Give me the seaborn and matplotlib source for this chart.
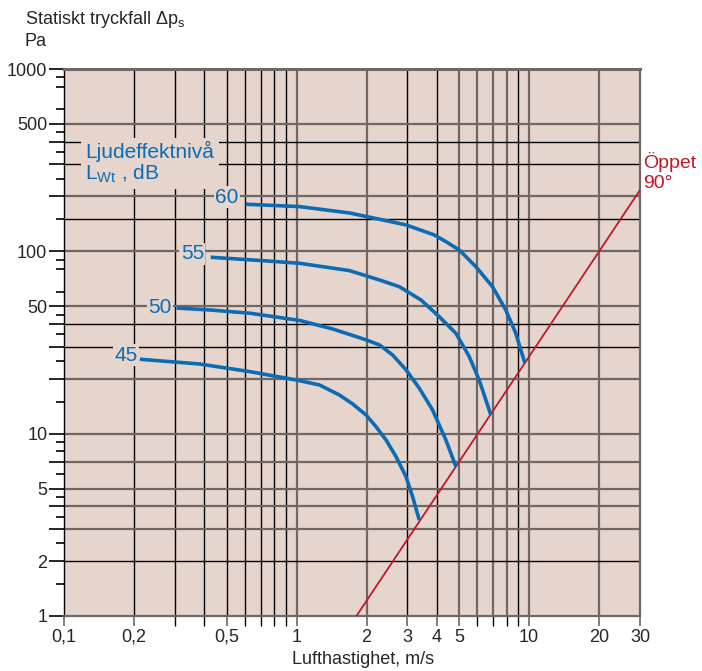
import matplotlib
matplotlib.use("Agg")
import matplotlib.pyplot as plt
import matplotlib.ticker as mticker
import seaborn as sns
import pandas as pd

# ---- data ----
v45 = [0.212, 0.3835, 0.6285, 0.997, 1.255, 1.529, 1.744, 1.991, 2.198, 2.427, 2.679, 2.957, 3.156, 3.373]
p45 = [25.6, 24.1, 21.9, 19.7, 18.5, 16.3, 14.55, 12.66, 10.92, 9.23, 7.48, 5.81, 4.51, 3.36]
v50 = [0.3047, 0.4232, 0.6285, 1.030, 1.432, 1.991, 2.271, 2.590, 2.957, 3.373, 3.846, 4.390, 4.848]
p50 = [48.9, 47.7, 45.8, 41.8, 37.5, 32.7, 30.7, 27.0, 22.4, 17.75, 13.49, 9.23, 6.59]
v55 = [0.4275, 0.7413, 1.030, 1.688, 2.271, 2.767, 3.430, 4.110, 4.848, 5.527, 6.102, 6.52, 6.85]
p55 = [92.8, 88.6, 86.0, 78.4, 69.7, 64.0, 54.1, 43.8, 35.5, 26.5, 19.7, 15.3, 12.66]
v60 = [0.604, 1.030, 1.688, 2.271, 2.957, 3.912, 4.390, 5.008, 5.904, 6.96, 7.943, 8.767, 9.583]
p60 = [181.3, 175.9, 162.4, 150.0, 139.6, 123.0, 113.0, 101.8, 82.4, 64.0, 47.7, 35.5, 24.5]
levels = ["45", "50", "55", "60"]
open_v = [1.81, 30]
open_p = [1.0, 217]

x_ticks = [0.1, 0.2, 0.5, 1, 2, 3, 4, 5, 10, 20, 30]
x_tick_labels = ["0,1", "0,2", "0,5", "1", "2", "3", "4", "5", "10", "20", "30"]
y_ticks = [1, 2, 5, 10, 50, 100, 500, 1000]
y_tick_labels = ["1", "2", "5", "10", "50", "100", "500", "1000"]

# ---- styling ----
BG = "#e5d5cd"
BLUE = "#0b6cb5"
RED = "#c0182a"
GRAY = "#6f6763"

sns.set_style("ticks")
plt.rcParams["font.family"] = ["Liberation Sans", "DejaVu Sans"]
plt.rcParams["mathtext.fontset"] = "custom"
plt.rcParams["mathtext.rm"] = "Liberation Sans"
plt.rcParams["mathtext.it"] = "Liberation Sans"
plt.rcParams["mathtext.default"] = "regular"

fig = plt.figure(figsize=(7.02, 6.71), dpi=100)
ax = fig.add_axes([64 / 702, 1 - 616 / 671, (640 - 64) / 702, (616 - 69) / 671])
ax.set_facecolor(BG)
ax.set_xscale("log")
ax.set_yscale("log")
ax.set_xlim(0.1, 30)
ax.set_ylim(1, 1000)

# grid lines
vgray = [1, 2, 5, 6, 7, 8, 10, 20]
vblack = [0.2, 0.3, 0.4, 0.5, 0.6, 0.7, 0.8, 0.9, 3, 4, 9]
hgray = [3, 4, 5, 7, 10, 20, 50, 100, 200, 500]
hblack = [2, 30, 40, 150, 300, 400]
for xv in vblack:
    ax.axvline(xv, color="black", lw=1.0, zorder=1)
for xv in vgray:
    ax.axvline(xv, color=GRAY, lw=1.6, zorder=1)
for yv in hblack:
    ax.axhline(yv, color="black", lw=1.0, zorder=1)
for yv in hgray:
    ax.axhline(yv, color=GRAY, lw=1.6, zorder=1)

# curves
df = pd.concat([
    pd.DataFrame({"v": v, "p": p, "L": lab})
    for v, p, lab in zip([v45, v50, v55, v60], [p45, p50, p55, p60], levels)
])
sns.lineplot(data=df, x="v", y="p", hue="L", palette=[BLUE] * 4, estimator=None,
             sort=False, lw=2.6, legend=False, ax=ax, zorder=4,
             solid_capstyle="butt", solid_joinstyle="round")
sns.lineplot(x=open_v, y=open_p, color=RED, lw=1.3, ax=ax, zorder=3)

# curve labels
lab_pos = {"60": (0.565, 198), "55": (0.40, 97), "50": (0.29, 49.5), "45": (0.207, 27)}
bbox = dict(facecolor=BG, edgecolor="none", pad=1.0)
for lab, (xx, yy) in lab_pos.items():
    ax.text(xx, yy, lab, color=BLUE, fontsize=15, ha="right", va="center", bbox=bbox, zorder=5)

ax.text(0.1237, 305, "Ljudeffektnivå\nL$_{Wt}$ , dB", color=BLUE, fontsize=15,
        ha="left", va="center", linespacing=1.05,
        bbox=dict(facecolor=BG, edgecolor="none", pad=3), zorder=5)

ax.text(31.0, 272, "Öppet\n90°", color=RED, fontsize=14, ha="left", va="center",
        linespacing=1.2, clip_on=False)

# ticks
ax.xaxis.set_major_locator(mticker.FixedLocator(x_ticks))
ax.xaxis.set_major_formatter(mticker.FixedFormatter(x_tick_labels))
ax.xaxis.set_minor_locator(mticker.FixedLocator([0.3, 0.4, 0.6, 0.7, 0.8, 0.9, 6, 7, 8, 9]))
ax.xaxis.set_minor_formatter(mticker.NullFormatter())
ax.tick_params(axis="x", which="major", length=7, width=1.2, color=GRAY, pad=2, labelsize=13)
ax.tick_params(axis="x", which="minor", length=7, width=1.0, color="black")

ax.yaxis.set_major_locator(mticker.FixedLocator(y_ticks + [3, 4, 7, 20, 30, 40, 200, 300, 400]))
ax.yaxis.set_major_formatter(mticker.FixedFormatter(y_tick_labels + [""] * 9))
ax.yaxis.set_minor_locator(mticker.FixedLocator(
    [1.5, 2.5, 3.5, 4.5, 6, 8, 9, 15, 25, 35, 45, 60, 80, 90, 150, 250, 350, 450, 600, 800, 900]))
ax.yaxis.set_minor_formatter(mticker.NullFormatter())
ax.tick_params(axis="y", which="major", length=11, width=1.2, color="black", pad=1, labelsize=13)
ax.tick_params(axis="y", which="minor", length=6, width=1.2, color="black")

for s in ["top", "right", "bottom"]:
    ax.spines[s].set_visible(True)
    ax.spines[s].set_color(GRAY)
ax.spines["top"].set_linewidth(2.2)
ax.spines["right"].set_linewidth(1.6)
ax.spines["bottom"].set_linewidth(1.6)
ax.spines["left"].set_color("black")
ax.spines["left"].set_linewidth(1.0)
ax.set_xlabel("")
ax.set_ylabel("")

fig.text(363 / 702, 1 - 660 / 671, "Lufthastighet, m/s", ha="center", va="center", fontsize=13)
fig.text(25 / 702, 1 - 19 / 671, "Statiskt tryckfall Δp$_s$", ha="left", va="center", fontsize=13)
fig.text(25 / 702, 1 - 41 / 671, "Pa", ha="left", va="center", fontsize=13)

fig.savefig("out.png", dpi=100, facecolor="white")
